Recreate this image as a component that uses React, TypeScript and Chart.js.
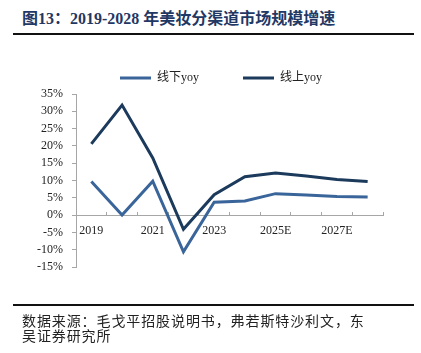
import React, { useEffect, useRef } from "react";
import { Chart, registerables } from "chart.js";

Chart.register(...registerables);

const categories = ["2019", "2020", "2021", "2022", "2023", "2024", "2025E", "2026E", "2027E", "2028E"];
const offlineYoy = [9.7, 0.0, 9.8, -10.6, 3.7, 4.1, 6.2, 5.8, 5.4, 5.2];
const onlineYoy = [20.6, 31.8, 16.5, -4.1, 5.9, 11.1, 12.2, 11.3, 10.3, 9.7];
const seriesNames = ["线下yoy", "线上yoy"];
const yTicks = { min: -15, max: 35, step: 5 };

const titleText = "图13：2019-2028 年美妆分渠道市场规模增速";
const sourceLine1 = "数据来源：毛戈平招股说明书，弗若斯特沙利文，东";
const sourceLine2 = "吴证券研究所";

const FONT = "'Liberation Serif', 'Times New Roman', 'Noto Sans CJK SC', serif";
const AXIS = "#A6A6A6";

// shift the legend so it is centred where the reference has it
const legendShift = {
  id: "legendShift",
  afterLayout(chart: any) {
    const lg = chart.legend;
    if (!lg) return;
    const target = 221;
    const center = (lg.left + lg.right) / 2;
    const d = target - center;
    lg.left += d;
    lg.right += d;
  },
};

export default function App() {
  const ref = useRef<HTMLCanvasElement | null>(null);

  useEffect(() => {
    if (!ref.current) return;
    const chart = new Chart(ref.current, {
      type: "line",
      data: {
        labels: categories,
        datasets: [
          {
            label: seriesNames[0],
            data: offlineYoy,
            borderColor: "#3A659A",
            backgroundColor: "#3A659A",
            borderWidth: 3,
            pointRadius: 0,
            tension: 0,
            fill: false,
          },
          {
            label: seriesNames[1],
            data: onlineYoy,
            borderColor: "#1B3A5C",
            backgroundColor: "#1B3A5C",
            borderWidth: 3,
            pointRadius: 0,
            tension: 0,
            fill: false,
          },
        ],
      },
      plugins: [legendShift],
      options: {
        animation: false,
        responsive: false,
        maintainAspectRatio: false,
        layout: { padding: { left: 20, right: 38, top: 28, bottom: 86 } },
        plugins: {
          tooltip: { enabled: false },
          title: { display: false },
          legend: {
            display: true,
            position: "top",
            labels: {
              boxWidth: 31,
              boxHeight: 3,
              padding: 44,
              color: "#222",
              font: { family: FONT, size: 12 },
              generateLabels: (c: any) =>
                c.data.datasets.map((d: any, i: number) => ({
                  text: d.label,
                  fillStyle: d.borderColor,
                  strokeStyle: d.borderColor,
                  lineWidth: 0,
                  hidden: false,
                  datasetIndex: i,
                  fontColor: "#222",
                })),
            },
          },
        },
        scales: {
          x: {
            type: "category",
            offset: true,
            position: { y: 0 } as any,
            grid: {
              drawOnChartArea: false,
              drawTicks: true,
              tickLength: -4,
              offset: true,
              color: AXIS,
            },
            border: { display: true, color: AXIS, width: 1 },
            ticks: {
              autoSkip: false,
              maxRotation: 0,
              padding: 13,
              color: "#222",
              font: { family: FONT, size: 12 },
              callback: (_v: any, i: number) => (i % 2 === 0 ? categories[i] : ""),
            },
          },
          y: {
            min: yTicks.min,
            max: yTicks.max,
            afterFit: (s: any) => {
              s.width = 56;
            },
            grid: {
              drawOnChartArea: false,
              drawTicks: true,
              tickLength: 4,
              color: AXIS,
            },
            border: { display: true, color: AXIS, width: 1 },
            ticks: {
              autoSkip: false,
              stepSize: yTicks.step,
              padding: 9,
              color: "#222",
              font: { family: FONT, size: 12 },
              callback: (v: any) => `${v}%`,
            },
          },
        },
      },
    });
    return () => chart.destroy();
  }, []);

  const textBase: React.CSSProperties = {
    position: "absolute",
    whiteSpace: "nowrap",
    fontFamily: "'Liberation Serif', 'Times New Roman', 'Noto Sans CJK SC', serif",
  };

  return (
    <div style={{ position: "absolute", left: 0, top: 0, width: 421, height: 353, background: "#fff", overflow: "hidden" }}>
      <div
        style={{
          ...textBase,
          left: 22,
          top: 9,
          fontSize: 16,
          lineHeight: "20px",
          fontWeight: "bold",
          color: "#1F3864",
        }}
      >
        {titleText}
      </div>
      <div style={{ position: "absolute", left: 13, top: 33, width: 401, height: 2, background: "#111" }} />
      <canvas ref={ref} width={421} height={353} style={{ position: "absolute", left: 0, top: 0 }} />
      <div style={{ position: "absolute", left: 13, top: 304, width: 401, height: 2, background: "#111" }} />
      <div
        style={{
          ...textBase,
          left: 22,
          top: 313,
          fontSize: 14,
          letterSpacing: 0.9,
          lineHeight: "18px",
          color: "#222",
        }}
      >
        {sourceLine1}
      </div>
      <div
        style={{
          ...textBase,
          left: 22,
          top: 328,
          fontSize: 14,
          letterSpacing: 0.9,
          lineHeight: "18px",
          color: "#222",
        }}
      >
        {sourceLine2}
      </div>
    </div>
  );
}
